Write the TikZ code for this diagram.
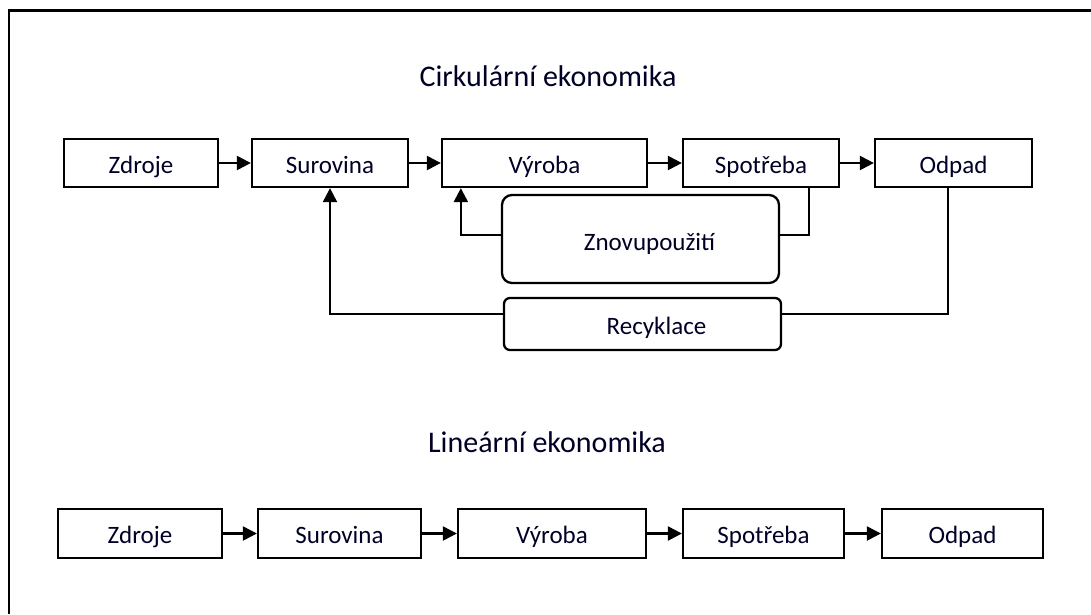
\documentclass[tikz,border=0pt]{standalone}
\usepackage{fontspec}
\setmainfont{Carlito}
\usetikzlibrary{arrows.meta,calc}
\begin{document}
\begin{tikzpicture}[x=1pt,y=-1pt,
  box/.style={draw, line width=2.3pt, inner sep=0pt, text height=24pt, text depth=4pt,
    font=\fontsize{25}{28}\selectfont, text=black!85!blue},
  rbox/.style={box, rounded corners=10pt},
  title/.style={font=\fontsize{30}{34}\selectfont, inner sep=0pt, text=black!85!blue},
  arr/.style={line width=2.3pt, -{Triangle[length=14pt,width=14pt]}},
  ln/.style={line width=2.3pt}]
\useasboundingbox (0,0) rectangle (1091,614);
\fill[white] (0,0) rectangle (1091,614);
% frame (top and left only)
\draw[line width=2.2pt] (9,614) -- (9,10.5) -- (1091,10.5);

% circular economy
\node[title] (tc) at (548,76) {Cirkulární ekonomika};
\node[box, minimum width=154pt, minimum height=48pt] (zdr1) at (141,163) {Zdroje};
\node[box, minimum width=156pt, minimum height=48pt] (sur1) at (330,163) {Surovina};
\node[box, minimum width=205pt, minimum height=48pt] (vyr1) at (544.5,163) {Výroba};
\node[box, minimum width=156pt, minimum height=48pt] (spo1) at (761,163) {Spotřeba};
\node[box, minimum width=157pt, minimum height=48pt] (odp1) at (953.5,163) {Odpad};
\node[rbox, minimum width=277pt, minimum height=88pt, text height=22pt, text depth=0pt] (znov) at (640.5,239) {\hspace*{18pt}Znovupoužití};
\node[box, rounded corners=6pt, minimum width=277pt, minimum height=52pt] (recy) at (642.5,324) {\hspace*{28pt}Recyklace};

\draw[arr] (zdr1) -- (sur1);
\draw[arr] (sur1) -- (vyr1);
\draw[arr] (vyr1) -- (spo1);
\draw[arr] (spo1) -- (odp1);
\draw[arr] ([yshift=4pt]znov.west) -| ([xshift=20pt]vyr1.south west);
\draw[ln] ([xshift=-31pt]spo1.south east) |- ([yshift=4pt]znov.east);
\draw[arr] ([yshift=10pt]recy.west) -| (sur1.south);
\draw[ln] ([xshift=-5.5pt]odp1.south) |- ([yshift=10pt]recy.east);

% linear economy
\node[title] (tl) at (547,442) {Lineární ekonomika};
\node[box, minimum width=164pt, minimum height=49pt] (zdr2) at (140,533.5) {Zdroje};
\node[box, minimum width=163pt, minimum height=49pt] (sur2) at (339.5,533.5) {Surovina};
\node[box, minimum width=188pt, minimum height=49pt] (vyr2) at (552,533.5) {Výroba};
\node[box, minimum width=161pt, minimum height=49pt] (spo2) at (763.5,533.5) {Spotřeba};
\node[box, minimum width=161pt, minimum height=49pt] (odp2) at (962.5,533.5) {Odpad};
\draw[arr] (zdr2) -- (sur2);
\draw[arr] (sur2) -- (vyr2);
\draw[arr] (vyr2) -- (spo2);
\draw[arr] (spo2) -- (odp2);
\end{tikzpicture}
\end{document}
